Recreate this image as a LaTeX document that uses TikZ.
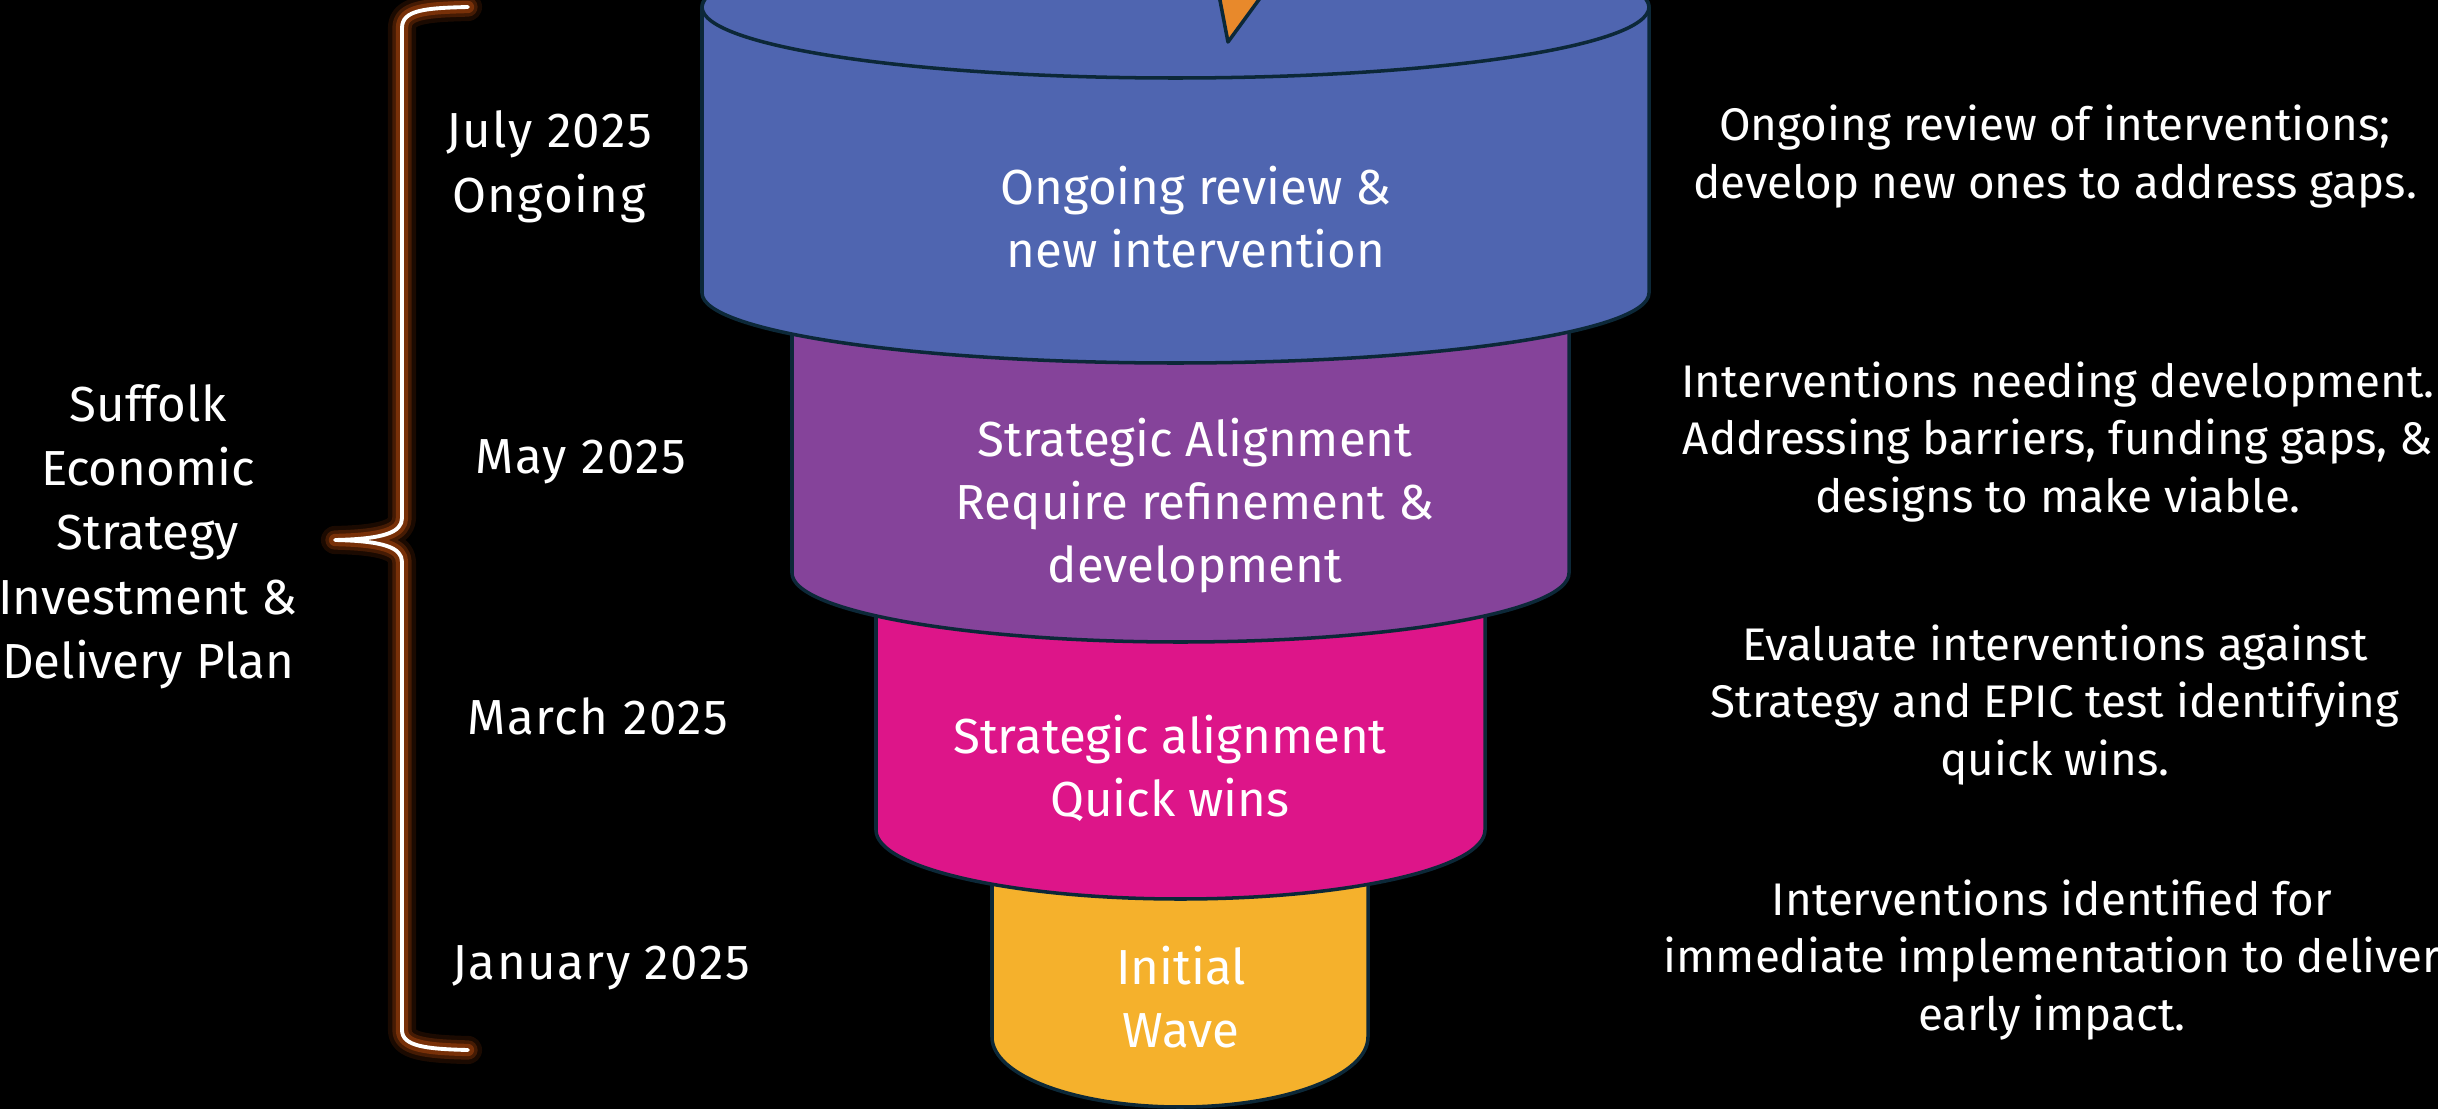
\documentclass[tikz,border=0pt]{standalone}
\usepackage{fontspec}
\setmainfont{Fira Sans}
\newfontfamily\condfont{Fira Sans}
\newfontfamily\datefont[LetterSpace=3]{Fira Sans}
\definecolor{bgc}{RGB}{0,0,0}
\definecolor{edgec}{RGB}{12,40,56}
\definecolor{cblue}{RGB}{79,101,176}
\definecolor{cpurple}{RGB}{133,67,154}
\definecolor{cmagenta}{RGB}{221,21,137}
\definecolor{cyellow}{RGB}{245,177,44}
\definecolor{corange}{RGB}{232,137,43}
\definecolor{glowc}{RGB}{150,60,10}
\tikzset{
  seg/.style={draw=edgec, line width=1pt, line join=round},
  cyltext/.style={text=white, align=center, anchor=base, inner sep=0pt,
     font=\condfont\fontsize{14pt}{17.9pt}\selectfont},
  desctext/.style={text=white, align=center, anchor=base, inner sep=0pt,
     font=\condfont\fontsize{13pt}{16.3pt}\selectfont},
  datetext/.style={text=white, align=center, anchor=base, inner sep=0pt,
     font=\datefont\fontsize{14pt}{18.2pt}\selectfont},
  titletext/.style={text=white, align=center, anchor=base, inner sep=0pt,
     font=\fontsize{14pt}{18.2pt}\selectfont},
}
\begin{document}
\begin{tikzpicture}[x=0.01cm,y=0.01cm]
\fill[bgc] (0,0) rectangle (2438,-1109);
\useasboundingbox (0,0) rectangle (2438,-1109);
\begin{scope}
\clip (0,0) rectangle (2438,-1109);
% yellow
\path[seg, fill=cyellow] (992,-830) -- (992,-1037) arc[start angle=180,end angle=360,x radius=188,y radius=70] -- (1368,-830);
% magenta
\path[seg, fill=cmagenta] (876,-573) -- (876,-830) arc[start angle=180,end angle=360,x radius=304.5,y radius=69] -- (1485,-573);
% purple
\path[seg, fill=cpurple] (792,-293) -- (792,-573) arc[start angle=180,end angle=360,x radius=388.5,y radius=69] -- (1569,-293);
% blue
\path[seg, fill=cblue] (702,-7) -- (702,-293) arc[start angle=180,end angle=360,x radius=473.5,y radius=70] -- (1649,-7) arc[start angle=0,end angle=180,x radius=473.5,y radius=71] -- cycle;
\draw[seg] (1175.5,-7) ellipse[x radius=473.5,y radius=71];
% orange wedge
\path[seg, fill=corange] (1218,10) -- (1228,-42) -- (1266,10) -- cycle;
\end{scope}
% brace
\def\bracepath{(468,-7) .. controls (425,-8) and (402,-10) .. (402,-28) -- (402,-518) .. controls (402,-532) and (385,-539) .. (335,-540) .. controls (385,-541) and (402,-548) .. (402,-562) -- (402,-1030) .. controls (402,-1046) and (425,-1049) .. (468,-1050)}
\draw[glowc, opacity=0.18, line width=8pt, line cap=round, line join=round] \bracepath;
\draw[glowc, opacity=0.35, line width=5.5pt, line cap=round, line join=round] \bracepath;
\draw[glowc!80!black, line width=3.5pt, line cap=round, line join=round] \bracepath;
\draw[white, line width=1.1pt, line cap=round, line join=round] \bracepath;
% left title
\node[titletext] (title) at (148,-678) {Suffolk\\Economic\\Strategy\\Investment \&\\Delivery Plan};
% dates
\node[datetext] (djul) at (549,-212) {July 2025\\Ongoing};
\node[datetext] (dmay) at (581,-473) {May 2025};
\node[datetext] (dmar) at (598,-734) {March 2025};
\node[datetext] (djan) at (601,-979) {January 2025};
% cylinder labels
\node[cyltext] (lblue) at (1196,-267) {Ongoing review \&\\new intervention};
\node[cyltext] (lpurple) at (1195,-582) {Strategic Alignment\\Require refinement \&\\development};
\node[cyltext] (lmagenta) at (1170,-816) {Strategic alignment\\Quick wins};
\node[cyltext] (lyellow) at (1181,-1047) {Initial\\Wave};
% descriptions
\node[desctext] (r1) at (2055,-198) {Ongoing review of interventions;\\develop new ones to address gaps.};
\node[desctext] (r2) at (2058,-512) {Interventions needing development.\\Addressing barriers, funding gaps, \&\\designs to make viable.};
\node[desctext] (r3) at (2055,-775) {Evaluate interventions against\\Strategy and EPIC test identifying\\quick wins.};
\node[desctext] (r4) at (2052,-1030) {Interventions identified for\\immediate implementation to deliver\\early impact.};
\end{tikzpicture}
\end{document}
